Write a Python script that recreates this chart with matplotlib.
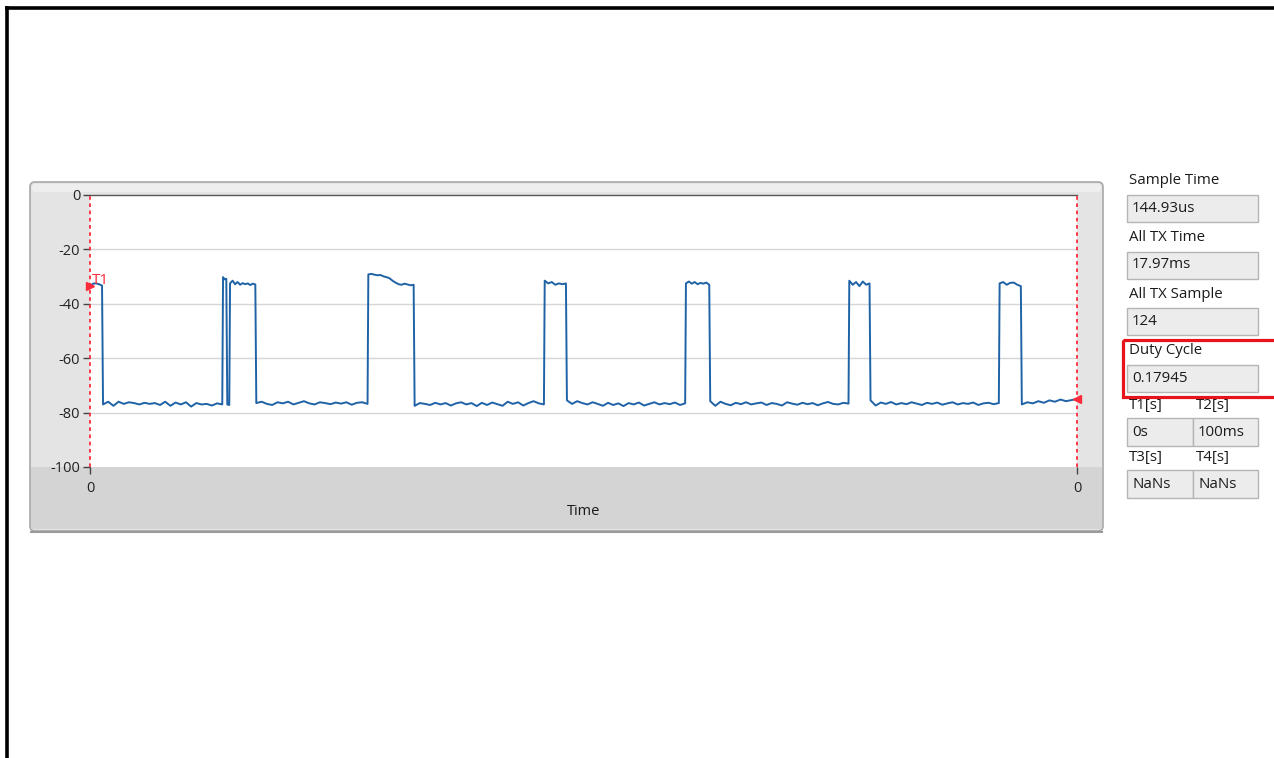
import numpy as np
import matplotlib.pyplot as plt
from matplotlib.patches import Rectangle, FancyBboxPatch

plt.rcParams['font.family'] = ['Open Sans', 'DejaVu Sans']

W, H = 1274, 758

# ── Trace data (time in ms over the 0..100 ms window, level in dB) ──────────
rise_ms = [0.0, 13.40, 14.11, 28.12, 45.99, 60.30, 76.85, 92.08]
fall_ms = [1.22, 13.81, 16.75, 32.79, 48.22, 62.74, 78.98, 94.31]

pulse_tops = [
    [-33.5, -32.6, -32.5, -32.8, -33.3],
    [-30.2, -31.0, -30.8],
    [-32.5, -31.5, -32.8, -32.0, -33.0, -32.4, -32.8, -32.5, -33.1, -32.6, -32.9],
    [-29.2, -29.0, -29.3, -29.5, -29.4, -29.9, -30.2, -30.6, -31.5, -32.2,
     -32.8, -33.0, -32.6, -32.9, -33.2, -33.0],
    [-31.5, -32.5, -32.0, -33.0, -32.5, -32.8, -32.5],
    [-32.5, -31.8, -32.6, -32.0, -32.8, -32.3, -32.6, -32.2, -33.0],
    [-31.5, -33.0, -32.0, -33.5, -31.8, -33.0, -32.5],
    [-32.5, -32.0, -33.0, -32.3, -32.2, -33.0, -33.5],
]

# noise floor between the pulses (segment after each pulse)
floor_levels = [
    [-77.0, -76.0, -77.5, -76.0, -76.8, -76.2, -76.5, -77.0, -76.4, -76.8, -76.5, -77.2,
     -76.0, -77.5, -76.3, -77.0, -76.2, -77.8, -76.5, -77.0, -76.8, -77.4, -76.6, -77.0],
    [-77.0, -77.2],
    [-76.5, -76.0, -76.8, -77.2, -76.2, -76.6, -76.0, -77.0, -76.4, -75.8, -76.6,
     -77.0, -76.2, -76.5, -76.9, -76.3, -76.7, -76.2, -77.1, -76.4, -76.2, -76.8],
    [-77.5, -76.5, -76.8, -77.2, -76.4, -77.0, -76.5, -77.4, -76.6, -76.2, -77.0, -76.5, -77.6,
     -76.4, -77.2, -76.3, -76.9, -77.5, -76.0, -76.8, -76.2, -77.4, -76.5, -75.8, -76.6, -77.0],
    [-75.5, -76.8, -75.8, -76.5, -77.0, -76.2, -76.8, -77.5, -76.4, -77.2, -76.6, -77.6,
     -76.5, -77.0, -76.3, -77.4, -76.8, -76.2, -77.0, -76.5, -76.9, -76.3, -77.2, -76.6],
    [-75.8, -77.5, -76.0, -76.8, -77.3, -76.4, -76.9, -76.2, -77.0, -76.6, -76.3, -77.2, -76.5, -76.8,
     -77.4, -76.2, -76.7, -77.1, -76.4, -76.9, -76.5, -77.3, -76.6, -76.1, -76.8, -77.0, -76.4, -76.7],
    [-75.5, -77.4, -76.3, -76.8, -76.1, -77.0, -76.5, -76.9, -76.2, -76.7, -77.2, -76.4, -76.8,
     -76.3, -77.1, -76.6, -76.2, -77.0, -76.5, -76.8, -76.3, -77.2, -76.6, -76.4, -76.9, -76.5],
    [-77.0, -76.2, -76.6, -75.8, -76.4, -75.5, -76.0, -75.2, -75.8, -75.4, -75.0],
]
t_end = 100.0

y_ticks = [0, -20, -40, -60, -80, -100]

# indicator panel
ind_labels = ['Sample Time', 'All TX Time', 'All TX Sample', 'Duty Cycle']
ind_values = ['144.93us', '17.97ms', '124', '0.17945']
cursor_labels = [('T1[s]', 'T2[s]'), ('T3[s]', 'T4[s]')]
cursor_values = [('0s', '100ms'), ('NaNs', 'NaNs')]

# ── Build the trace ─────────────────────────────────────────────────────────
t, v = [], []
next_rise = rise_ms[1:] + [t_end]
for r, f, top, floor, nr in zip(rise_ms, fall_ms, pulse_tops, floor_levels, next_rise):
    t += list(np.linspace(r + (0.08 if r > 0 else 0), f, len(top)))
    v += top
    t += list(np.linspace(f + 0.1, nr, len(floor)))
    v += floor

fig = plt.figure(figsize=(W / 100, H / 100), dpi=100)

# background canvas in pixel units
bg = fig.add_axes([0, 0, 1, 1])
bg.set_xlim(0, W)
bg.set_ylim(H, 0)
bg.axis('off')

bg.plot([5, W], [7.8, 7.8], color='black', lw=2.6, solid_capstyle='butt')
bg.plot([6.7, 6.7], [6, H], color='black', lw=2.6, solid_capstyle='butt')

# graph panel
bg.add_patch(FancyBboxPatch((30, 182), 1073, 349, boxstyle='round,pad=0,rounding_size=5',
                            fc='#e4e4e4', ec='#a8a8a8', lw=1.2))
bg.add_patch(FancyBboxPatch((32, 184), 1069, 8, boxstyle='round,pad=0,rounding_size=3',
                            fc='#eeeeee', ec='none'))
bg.add_patch(Rectangle((31, 467), 1071, 62, fc='#d4d4d4', ec='none'))
bg.plot([31, 1102], [532, 532], color='#9a9a9a', lw=1.5)

# indicators
fs = 10.8
box_x, box_w, box_h = 1127, 131, 27
for i, (lab, val) in enumerate(zip(ind_labels, ind_values)):
    y0 = 181 + i * 56.5
    bg.text(1129, y0, lab, fontsize=fs, color='#1a1a1a', va='center', ha='left')
    bg.add_patch(Rectangle((box_x, y0 + 14), box_w, box_h, fc='#ececec', ec='#b5b5b5', lw=1))
    bg.text(1132, y0 + 27.5, val, fontsize=fs, color='#1a1a1a', va='center', ha='left')

for j, (labs, vals) in enumerate(zip(cursor_labels, cursor_values)):
    y0 = 406 + j * 51.5
    for k in range(2):
        xl = 1129 + k * 67
        bg.text(xl, y0, labs[k], fontsize=fs, color='#1a1a1a', va='center', ha='left')
        bg.add_patch(Rectangle((1127 + k * 65.5, y0 + 12), 65.5, 28, fc='#ececec',
                               ec='#b5b5b5', lw=1))
        bg.text(1132 + k * 66, y0 + 26.5, vals[k], fontsize=fs, color='#1a1a1a',
                va='center', ha='left')

bg.add_patch(Rectangle((1122.5, 339.5), 160, 57, fc='none', ec='#e8141c', lw=2.3,
                       zorder=5))

# ── Graph ────────────────────────────────────────────────────────────────────
ax = fig.add_axes([90 / W, 1 - 467 / H, (1077 - 90) / W, (467 - 195) / H])
ax.set_facecolor('white')
ax.set_xlim(0, t_end)
ax.set_ylim(-100, 0)
for s in ['left', 'right', 'bottom']:
    ax.spines[s].set_visible(False)
ax.spines['top'].set_color('#555555')
ax.spines['top'].set_linewidth(1.0)

for yv in y_ticks[1:-1]:
    ax.axhline(yv, color='#d6d6d6', lw=1.0, zorder=0)

ax.plot(t, v, color='#1f63a6', lw=1.4, zorder=3)

# cursors
ax.axvline(0, color='#ff2a3a', lw=1.3, ls=(0, (2, 2)), zorder=4, clip_on=False)
ax.axvline(t_end, color='#ff2a3a', lw=1.3, ls=(0, (2, 2)), zorder=4, clip_on=False)
ax.plot([0], [v[0]], marker='>', color='#ff2a3a', ms=6, clip_on=False, zorder=5)
ax.plot([t_end], [v[-1]], marker='<', color='#ff2a3a', ms=6, clip_on=False, zorder=5)
ax.text(0.15, -31.3, 'T1', color='#ff2a3a', fontsize=11, va='center', ha='left')

ax.set_yticks(y_ticks)
ax.set_yticklabels([str(y) for y in y_ticks])
ax.set_xticks([0, t_end])
ax.set_xticklabels(['0', '0'])
ax.tick_params(axis='y', length=5, width=1, color='#444444', labelsize=10.5,
               labelcolor='#222222', pad=2)
ax.tick_params(axis='x', length=5, width=1, color='#444444', labelsize=10.5,
               labelcolor='#222222', pad=5)
ax.set_xlabel('Time', fontsize=10.5, color='#1a1a1a', labelpad=6)

fig.savefig('out.png', dpi=100)
